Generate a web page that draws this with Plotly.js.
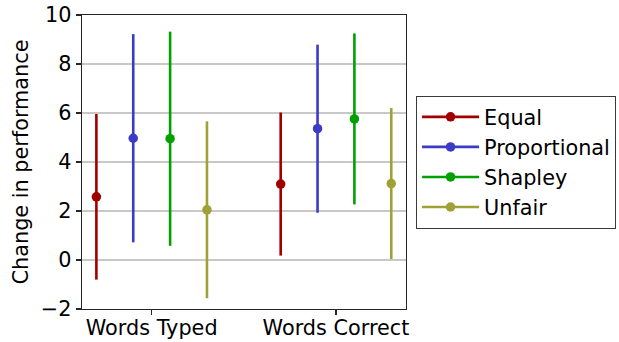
<!DOCTYPE html>
<html>
<head>
<meta charset="utf-8">
<script src="https://cdn.plot.ly/plotly-3.0.1.min.js"></script>
<style>
  html, body { margin: 0; padding: 0; background: #ffffff; }
  #chart { width: 619px; height: 342px; }
</style>
</head>
<body>
<div id="chart"></div>
<script>
// Metrics on the x axis and the allocation methods compared on each
const metrics = ['Words Typed', 'Words Correct'];
const methods = ['Equal', 'Proportional', 'Shapley', 'Unfair'];

// Mean change in performance and the +/- interval, per metric
const equalMean = [2.58, 3.10];
const equalErr = [3.38, 2.92];
const proportionalMean = [4.97, 5.36];
const proportionalErr = [4.25, 3.43];
const shapleyMean = [4.95, 5.76];
const shapleyErr = [4.37, 3.49];
const unfairMean = [2.05, 3.12];
const unfairErr = [3.61, 3.08];

const yTicks = [-2, 0, 2, 4, 6, 8, 10];

const means = [equalMean, proportionalMean, shapleyMean, unfairMean];
const errs = [equalErr, proportionalErr, shapleyErr, unfairErr];
const colors = ['#a00000', '#3b3bc6', '#00a000', '#a0a034'];
const offsets = [-0.3, -0.1, 0.1, 0.3];

const FONT = 'DejaVu Sans, Liberation Sans, sans-serif';
const FS = 20.8;

// Each method is one trace; a null between the two metrics keeps the
// points unconnected while the legend still shows a line sample.
function gapped(arr) {
  const out = [];
  arr.forEach((v, i) => { if (i > 0) out.push(null); out.push(v); });
  return out;
}

const traces = methods.map((name, k) => ({
  type: 'scatter',
  mode: 'lines+markers',
  name: name,
  legendgroup: name,
  connectgaps: false,
  x: gapped(metrics.map((_, i) => i + offsets[k])),
  y: gapped(means[k]),
  error_y: {
    type: 'data',
    symmetric: true,
    array: gapped(errs[k]),
    color: colors[k],
    thickness: 2.6,
    width: 0
  },
  line: { color: colors[k], width: 2.6 },
  marker: { color: colors[k], size: 9.5 },
  hoverinfo: 'x+y'
}));

const layout = {
  width: 619,
  height: 342,
  margin: { l: 82, r: 213, t: 15, b: 33, pad: 0, autoexpand: false },
  paper_bgcolor: '#ffffff',
  plot_bgcolor: '#ffffff',
  font: { family: FONT, size: FS, color: '#000000' },
  showlegend: true,
  legend: {
    x: 1.031,
    xanchor: 'left',
    y: 0.725,
    yanchor: 'top',
    bgcolor: '#ffffff',
    bordercolor: '#3a3a3a',
    borderwidth: 1,
    font: { family: FONT, size: FS, color: '#000000' },
    tracegroupgap: 0,
    itemwidth: 57
  },
  xaxis: {
    range: [-0.378, 1.38],
    tickmode: 'array',
    tickvals: metrics.map((_, i) => i),
    ticktext: metrics,
    ticks: 'outside',
    ticklen: 5,
    tickwidth: 1.2,
    tickcolor: '#262626',
    ticklabelstandoff: -5,
    showgrid: false,
    zeroline: false,
    showline: true,
    mirror: true,
    linecolor: '#262626',
    linewidth: 1.3,
    tickfont: { family: FONT, size: FS, color: '#000000' }
  },
  yaxis: {
    range: [-2, 10],
    tickmode: 'array',
    tickvals: yTicks,
    ticktext: yTicks.map(v => v < 0 ? '\u2212' + Math.abs(v) : String(v)),
    ticks: 'outside',
    ticklen: 5,
    tickwidth: 1.2,
    tickcolor: '#262626',
    showgrid: true,
    gridcolor: '#c8c8c8',
    gridwidth: 1.6,
    zeroline: false,
    showline: true,
    mirror: true,
    linecolor: '#262626',
    linewidth: 1.3,
    tickfont: { family: FONT, size: FS, color: '#000000' },
    title: {
      text: 'Change in performance',
      font: { family: FONT, size: FS, color: '#000000' },
      standoff: 6
    }
  }
};

Plotly.newPlot('chart', traces, layout, { displayModeBar: false, staticPlot: true });
</script>
</body>
</html>
